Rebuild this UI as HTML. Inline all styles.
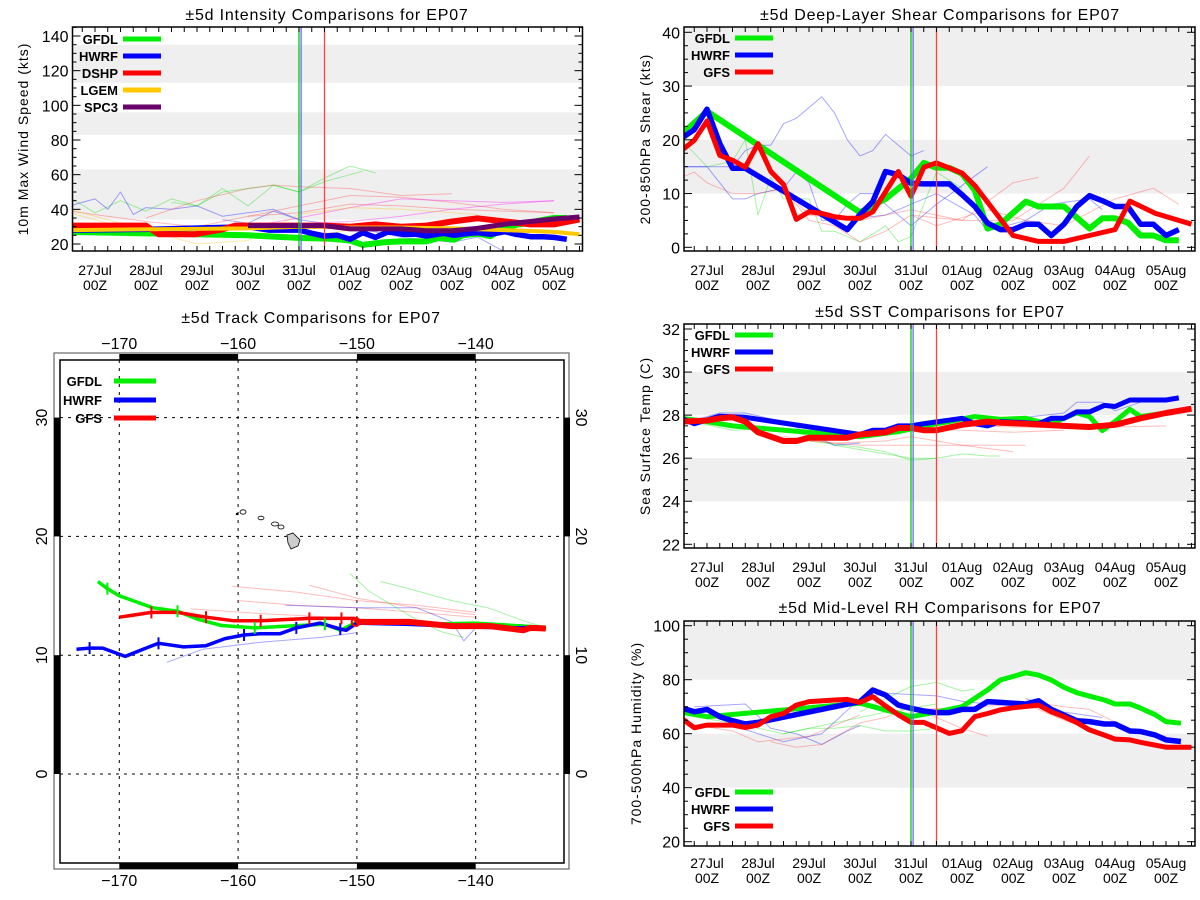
<!DOCTYPE html>
<html><head><meta charset="utf-8"><style>
html,body{margin:0;padding:0;background:#fff;}
svg{display:block;font-family:"Liberation Sans",sans-serif;}
</style></head><body>
<svg id="svg" width="1200" height="900" viewBox="0 0 1200 900" xmlns="http://www.w3.org/2000/svg"></svg>
<script>
// ---------- Intensity data (t = hours from 27Jul 00Z) ----------
const intGfdlT=[-12,72,96,111,120,126,136,144,156,162,169,173,180,186,191,198,216,222];
const intGfdlV=[27,25,23.5,23,22,19.5,21,21.5,21.5,23.5,22.5,25,26,24.5,28,31,35,35];
const intHwrfT=[-12,27,72,82,96,102,108,114,120,126,132,138,145,151,156,164,169,176,180,186,193,198,205,211,216,222];
const intHwrfV=[28,28.5,30,28,28,26.2,24.6,25,22.7,26.5,23.8,27.1,25.6,25.6,24.6,26.2,25,26.2,26.5,25.6,27.1,25.6,24.2,24.2,23.8,22.7];
const intDshpT=[-12,24,30,47,60,66,72,108,120,132,144,156,168,180,193,205,216,228];
const intDshpV=[30.6,30.6,25.6,25.6,28.5,30.6,30.6,30.6,30,31.3,30,30.6,33,34.8,33,31.3,31.3,34.2];
const intLgemT=[-12,72,96,108,120,144,168,192,216,228];
const intLgemV=[28,29,30,30,29.5,29.5,29,28,27,25.6];
const intSpc3T=[72,108,120,144,156,168,180,193,205,216,228];
const intSpc3V=[30.6,30.6,28.7,28.7,27.7,27.7,29,31.5,33,34.4,35.6];
const intFaint=[
 {c:'#00e000',t:[-12,0,12,24,36,48,60,72,84,96,108,120,126],v:[47,38,45,39,46,42,52,42,54,50,56,60,62]},
 {c:'#00e000',t:[36,48,60,72,84,96,108,120,132],v:[44,42,50,52,54,50,58,65,61]},
 {c:'#0000ff',t:[-12,0,6,12,18,24,36,48,60,72,84,96],v:[42,46,40,50,37,41,40,42,36,38,40,34]},
 {c:'#0000ff',t:[60,72,84,96,108,120,144,168,180,192],v:[34,32,39,34,32,30,24,21,24,16]},
 {c:'#ff4040',t:[24,48,72,84,96,120,144,168],v:[35,45,52,54,53,52,48,49]},
 {c:'#ff4040',t:[-12,24,48,72,96,120,144,168,192,216],v:[39,33,30,36,42,48,47,44,40,38]},
 {c:'#ff4040',t:[72,96,120,144,168,192,216],v:[36,38,43,42,40,39,38]},
 {c:'#ff00ff',t:[72,96,120,144,168,192,216],v:[30,35,41,46,45,44,45]},
 {c:'#ff00ff',t:[84,120,144,168,192,216],v:[31,33,36,40,43,45]},
 {c:'#ffc000',t:[-12,24,48,72,96,120,144,168,180],v:[40,28,20,22,37,41,40,38,37]},
 {c:'#ffc000',t:[-12,12,36,60,84,108,132],v:[38,30,26,24,24,26,30]}
];
// ---------- Shear data ----------
const shrGfdlT=[-12,0,72,84,96,102,108,114,120,126,132,138,150,156,168,180,186,192,198,204,210,216,222];
const shrGfdlV=[21,25.3,6.5,9,12.8,15.7,14.8,14.8,13.7,10.6,3.5,4.3,8.5,7.6,7.6,3.5,5.4,5.4,4.6,2.2,2.2,1.3,1.3];
const shrHwrfT=[-12,-6,0,6,12,18,66,72,78,84,90,96,102,114,120,126,132,138,144,150,156,162,168,174,180,187,192,198,204,210,216,222];
const shrHwrfV=[20.3,21.9,25.7,19.3,14.7,14.7,3.3,6.1,8.5,14.1,13.5,11.9,11.8,11.8,9.8,7.6,4.5,3.3,3.3,4.3,4.3,2.2,4.3,7.6,9.6,8.5,7.6,7.6,4.3,4.3,2.2,3.3];
const shrGfsT=[-12,-6,0,6,12,18,24,30,36,42,48,54,60,66,72,78,84,90,96,102,108,120,126,144,156,168,180,192,199,211,228];
const shrGfsV=[18,19.9,23.5,17.1,16.2,14.9,19.3,14.1,11.7,5.2,6.6,6.3,5.7,5.4,5.4,6.6,10.3,14.1,9.5,14.9,15.7,13.8,11.5,2.2,1.1,1.1,2.2,3.3,8.6,6.3,4.3];
const shrFaint=[
 {c:'#0000ff',t:[-12,12,18,24,30,36,42,54,60,66,72,78,84,96,102],v:[15,15,18,19,19,23,24,28,25,20,17,18,21,17,18]},
 {c:'#0000ff',t:[-12,0,12,18,24,36,42,48,54,60,66,72,78,84,96,108,132],v:[15,15,9,9,10,11,14,12,5,5,8,10,10,8,4,8,15]},
 {c:'#0000ff',t:[60,84,96,108,126,132,150,162,180,186],v:[5,6,8,10,6,3,5,8,9,7]},
 {c:'#00e000',t:[-12,0,12,18,24,30,36,48,54,60,72,84,90,96,108,120],v:[20,15,16,20,6,13,9,9,3,3,1,4,1,2,14,11]},
 {c:'#ff4040',t:[-12,-6,0,12,24,36,48,60,72,84,96,120,144,156],v:[13,14,12,10,10,11,5,4,1,3,6,5,12,13]},
 {c:'#ff4040',t:[36,48,72,96,108,120,144,156,168,180],v:[11,6,5,7,6,5,5,8,11,17]},
 {c:'#ff4040',t:[96,108,132,150,168,192,210,222],v:[6,4,7,5,4,9,11,8]}
];
// ---------- SST data ----------
const sstGfdlT=[-12,0,12,72,90,102,114,126,138,150,156,162,174,180,186,192,199,204,216,222];
const sstGfdlV=[27.85,27.7,27.5,27.0,27.23,27.49,27.7,27.93,27.8,27.85,27.7,27.6,28.11,27.93,27.28,27.7,28.27,27.93,28.1,28.19];
const sstHwrfT=[-12,-6,6,18,72,78,84,90,96,102,120,126,132,138,150,156,162,168,174,180,187,192,199,216,222];
const sstHwrfV=[27.85,27.6,27.95,27.9,27.1,27.3,27.3,27.5,27.5,27.6,27.85,27.6,27.5,27.7,27.65,27.6,27.85,27.85,28.15,28.15,28.45,28.4,28.7,28.7,28.8];
const sstGfsT=[-12,0,6,12,18,24,30,36,42,48,60,66,72,84,90,96,102,108,120,132,138,150,168,180,192,204,216,228];
const sstGfsV=[27.7,27.75,27.85,27.9,27.7,27.2,27.0,26.8,26.8,26.95,26.95,26.95,27.1,27.2,27.4,27.4,27.3,27.3,27.55,27.7,27.65,27.6,27.5,27.45,27.55,27.85,28.1,28.3];
const sstFaint=[
 {c:'#00e000',t:[-12,12,36,60,72,84,96,108,120,132,138],v:[27.8,27.3,27.4,26.6,26.4,26.2,26.0,26.0,26.2,26.1,26.1]},
 {c:'#00e000',t:[48,72,84,96,108],v:[26.8,26.5,26.3,25.9,26.0]},
 {c:'#00e000',t:[84,96,108,120],v:[27.1,27.6,27.8,27.9]},
 {c:'#ff4040',t:[36,60,84,96,120,144],v:[27.0,26.7,26.8,27.0,26.6,26.3]},
 {c:'#ff4040',t:[48,72,96,120,150],v:[26.8,26.6,26.6,26.6,26.6]},
 {c:'#ff4040',t:[96,120,144,168],v:[27.4,27.3,27.2,27.3]},
 {c:'#ff4040',t:[120,168,216],v:[27.5,27.4,27.5]},
 {c:'#0000ff',t:[-12,6,18,36,60,72],v:[27.6,28.1,28.1,27.7,26.6,26.7]},
 {c:'#0000ff',t:[150,168,174,186,192,204],v:[27.9,28.1,28.6,28.6,28.2,28.6]}
];
// ---------- RH data ----------
const rhGfdlT=[-12,0,72,96,108,120,126,132,138,144,150,156,162,168,174,181,187,192,199,204,211,216,223];
const rhGfdlV=[68.1,66.3,71.3,66.3,68,70,73.1,76.2,79.9,81.2,82.6,81.7,79.9,77.2,75.2,73.7,72.5,71,71,69.5,67,64.5,63.9];
const rhHwrfT=[-12,-6,0,6,12,18,24,72,78,84,90,96,102,108,114,120,126,132,138,150,156,162,168,174,180,187,192,199,204,211,216,223];
const rhHwrfV=[69.6,68.1,69,66.3,64.8,63.6,64.2,71.9,76.2,74.3,70.6,69.4,68.4,67.8,67.8,69,69,71.9,71.6,71,72.2,69,66.9,64.8,64.5,63.6,63.6,61,60.8,59.5,57.7,57.1];
const rhGfsT=[-12,-6,0,12,18,24,30,36,42,48,60,66,72,78,84,90,96,102,108,114,120,126,132,138,144,156,162,168,174,180,187,192,199,204,216,228];
const rhGfsV=[65.7,62.2,63.2,63.2,62.3,63.2,66.3,67.5,70.6,71.9,72.5,72.7,71.6,73.7,70.3,67,64.2,64.2,62.2,60.1,61.1,66.3,67.5,68.8,69.6,70.6,68.1,66.3,64.1,61.4,59.5,58,57.7,56.8,55,55];
const rhFaint=[
 {c:'#00e000',t:[72,84,96,108,120,126],v:[68,73,77.5,79,75.8,76.5]},
 {c:'#00e000',t:[36,48,60,72,84,96,108],v:[60,62,62,63,61,61,62]},
 {c:'#00e000',t:[-12,12,36,60,84,108],v:[67,64,60,64,68,71]},
 {c:'#0000ff',t:[-6,6,18,30,42,54,66,72],v:[70,70.5,71,62,60,56,61,63]},
 {c:'#0000ff',t:[12,24,36,54,72,84,108,120,132],v:[63,60,57,60,73,75,74,72,71]},
 {c:'#0000ff',t:[150,168,186],v:[73,68,66]},
 {c:'#ff4040',t:[30,42,54,72,84,96,120,132],v:[57,55,56,64,66,70,62,59]},
 {c:'#ff4040',t:[102,126,150,168,180],v:[69,70,71,65,62]},
 {c:'#ff4040',t:[150,168,180,198,216],v:[72,70,69,62,59]},
 {c:'#ff4040',t:[-12,12,24,48,72],v:[64,61,57,59,67]}
];
// ---------- Track data (lon, lat) ----------
const trkGfdlLon=[-171.8,-171,-170,-167.2,-165.1,-163.3,-161.4,-158.6,-154.9,-152.7,-151.4,-150,-144.6,-140.1,-135.9,-134.1];
const trkGfdlLat=[16.2,15.6,15.0,14.0,13.7,13.0,12.5,12.3,12.5,12.6,12.1,12.8,12.6,12.7,12.45,12.35];
const trkHwrfLon=[-173.6,-172.5,-171.4,-169.5,-168,-166.7,-164.6,-162.7,-161.1,-159.5,-158.2,-156.5,-155.1,-153.1,-151.4,-150.9,-150,-145.9,-139.8,-137.2,-134.1];
const trkHwrfLat=[10.5,10.6,10.6,9.9,10.5,11.0,10.7,10.8,11.4,11.7,11.8,11.8,12.3,12.7,12.2,12.1,12.7,12.6,12.35,12.3,12.35];
const trkGfsLon=[-170,-167.3,-165.1,-162.7,-160.4,-158.1,-154,-151.3,-150.2,-150,-145.6,-142,-138.8,-136,-135.4,-134.1];
const trkGfsLat=[13.2,13.6,13.6,13.2,12.9,12.9,13.1,13.1,13.1,12.8,12.8,12.45,12.45,12.1,12.3,12.25];
const trkFaint=[
 {c:'#ff4040',lon:[-160.5,-155,-150,-145,-140],lat:[15.8,15.3,14.6,14.2,13.6]},
 {c:'#ff4040',lon:[-154,-150,-145,-140],lat:[15.9,14.8,14.0,13.4]},
 {c:'#ff4040',lon:[-160,-155,-150,-145,-140],lat:[14.6,14.2,14.0,13.6,13.2]},
 {c:'#ff4040',lon:[-164,-158,-152],lat:[13.9,13.5,13.2]},
 {c:'#00e000',lon:[-150.6,-149,-147,-145,-143,-141],lat:[16.9,15.4,14.2,13.0,12.0,11.5]},
 {c:'#00e000',lon:[-148,-146,-142,-139,-136,-134],lat:[16.2,15.7,14.6,14.0,12.9,12.3]},
 {c:'#0000ff',lon:[-166,-163,-158,-153,-150],lat:[9.4,10.5,11.1,11.5,11.9]},
 {c:'#0000ff',lon:[-156,-150,-145,-142,-141,-140,-136],lat:[14.2,14.0,14.0,12.8,11.2,12.3,12.6]}
];
</script>
<script>
const NS='http://www.w3.org/2000/svg';
const svg=document.getElementById('svg');
function mk(tag,attrs,parent){const e=document.createElementNS(NS,tag);for(const k in attrs)e.setAttribute(k,attrs[k]);(parent||svg).appendChild(e);return e;}
function txt(s,x,y,size,anchor,parent,extra){const e=mk('text',Object.assign({x:x,y:y,'font-size':size,'text-anchor':anchor||'middle',fill:'#000'},extra||{}),parent);e.textContent=s;return e;}
const dates=['27Jul','28Jul','29Jul','30Jul','31Jul','01Aug','02Aug','03Aug','04Aug','05Aug'];
let clipId=0;
function panel(o){
  const g=mk('g',{});
  
  
  const X=t=>o.x0+t*51/24;
  const Y=v=>o.yA+(v-o.vA)*(o.yB-o.yA)/(o.vB-o.vA);
  // bands
  o.bands.forEach(b=>{
    const r=mk('rect',{x:o.l,y:Math.max(o.t,Y(b[1])),width:o.r-o.l,height:Math.min(o.b,Y(b[0]))-Math.max(o.t,Y(b[1])),fill:'#efefef'},g);
    
    
  });
  const id='c'+(clipId++);
  const cp=mk('clipPath',{id:id},g);mk('rect',{x:o.l,y:o.t,width:o.r-o.l,height:o.b-o.t},cp);
  const sg=mk('g',{'clip-path':'url(#'+id+')'},g);
  const line=(t,v,c,w,op,name)=>{
    const p=mk('polyline',{points:t.map((tt,i)=>X(tt).toFixed(1)+','+Y(v[i]).toFixed(1)).join(' '),fill:'none',stroke:c,'stroke-width':w,'stroke-opacity':op,'stroke-linejoin':'round'},sg);
    
    
  };
  o.faint.forEach(f=>line(f.t,f.v,f.c,1,0.35,'faint-forecast-line'));
  o.series.forEach(s=>line(s.t,s.v,s.c,s.w||5.5,1,s.name));
  // vertical lines
  [[96,'#00d000'],[97,'#6a6aff'],[108,'#ff4040']].forEach(v=>{
    const l=mk('line',{x1:X(v[0]),x2:X(v[0]),y1:o.t,y2:o.b,stroke:v[1],'stroke-width':1.3},g);
    
    
  });
  // box
  mk('rect',{x:o.l,y:o.t,width:o.r-o.l,height:o.b-o.t,fill:'none',stroke:'#000','stroke-width':1.5},g);
  // x ticks every 6h
  for(let t=-12;t<=228;t+=6){const x=X(t);if(x<o.l||x>o.r)continue;
    mk('line',{x1:x,x2:x,y1:o.b,y2:o.b-5,stroke:'#000','stroke-width':1},g);
    mk('line',{x1:x,x2:x,y1:o.t,y2:o.t+5,stroke:'#000','stroke-width':1},g);}
  dates.forEach((d,i)=>{const x=X(i*24);
    const a=txt(d,x,o.b+o.lab1,14,'middle',g);
    const b=txt('00Z',x,o.b+o.lab1+15,14,'middle',g);});
  // y ticks
  for(let v=o.ymin;v<=o.ymax+1e-6;v+=o.minor){const y=Y(v);if(y<o.t-0.5||y>o.b+0.5)continue;
    const maj=Math.abs(Math.round(v/o.major)*o.major-v)<1e-6;const L=maj?8:4;
    mk('line',{x1:o.l,x2:o.l+L,y1:y,y2:y,stroke:'#000'},g);mk('line',{x1:o.r,x2:o.r-L,y1:y,y2:y,stroke:'#000'},g);
    if(maj){const e=txt(String(Math.round(v)),o.l-4,y+6,16,'end',g);}}
  const yt=txt(o.ytitle,o.ytx,(o.t+o.b)/2,14,'middle',g,{transform:'rotate(-90 '+o.ytx+' '+(o.t+o.b)/2+')','letter-spacing':'1'});
  
  const tt=txt(o.title,o.tx,o.ty,16,'middle',g,{'letter-spacing':'0.8'});
  
  // legend
  o.series.forEach((s,i)=>{if(!s.label)return;const y=o.legY+i*17;
    const lg=mk('g',{},g);
    txt(s.label,o.legX,y+5,13,'end',lg,{'font-weight':'bold'});
    mk('line',{x1:o.legX+5,x2:o.legX+43,y1:y,y2:y,stroke:s.c,'stroke-width':5},lg);});
}
const G='#00ee00',B='#0000ff',R='#ff0000';
panel({name:'intensity-panel',l:72.5,r:582.5,t:27,b:251,x0:95,yA:244,vA:20,yB:36,vB:140,ymin:15,ymax:145,minor:5,major:20,
 bands:[[34,63],[83,96],[113,135]],faint:intFaint,
 series:[{t:intGfdlT,v:intGfdlV,c:G,label:'GFDL',name:'gfdl-line',w:6},{t:intHwrfT,v:intHwrfV,c:B,label:'HWRF',name:'hwrf-line'},{t:intDshpT,v:intDshpV,c:R,label:'DSHP',name:'dshp-line',w:6},{t:intLgemT,v:intLgemV,c:'#ffc800',label:'LGEM',name:'lgem-line',w:4},{t:intSpc3T,v:intSpc3V,c:'#6a006a',label:'SPC3',name:'spc3-line',w:5}],
 title:'±5d Intensity Comparisons for EP07',tx:327,ty:20,ytitle:'10m Max Wind Speed (kts)',ytx:28,lab1:24,legX:118,legY:39});
panel({name:'shear-panel',l:684,r:1195,t:27,b:251,x0:707,yA:247.3,vA:0,yB:32.3,vB:40,ymin:0,ymax:45,minor:2.5,major:10,
 bands:[[10,20],[30,45]],faint:shrFaint,
 series:[{t:shrGfdlT,v:shrGfdlV,c:G,label:'GFDL',name:'gfdl-line',w:6},{t:shrHwrfT,v:shrHwrfV,c:B,label:'HWRF',name:'hwrf-line'},{t:shrGfsT,v:shrGfsV,c:R,label:'GFS',name:'gfs-line',w:5}],
 title:'±5d Deep-Layer Shear Comparisons for EP07',tx:940,ty:20,ytitle:'200-850hPa Shear (kts)',ytx:650,lab1:24,legX:730,legY:38});
panel({name:'sst-panel',l:684,r:1195,t:324,b:548,x0:707,yA:544.3,vA:22,yB:329,vB:32,ymin:21.5,ymax:32.5,minor:0.5,major:2,
 bands:[[24,26],[28,30]],faint:sstFaint,
 series:[{t:sstGfdlT,v:sstGfdlV,c:G,label:'GFDL',name:'gfdl-line',w:5},{t:sstHwrfT,v:sstHwrfV,c:B,label:'HWRF',name:'hwrf-line',w:5},{t:sstGfsT,v:sstGfsV,c:R,label:'GFS',name:'gfs-line',w:6}],
 title:'±5d SST Comparisons for EP07',tx:940,ty:317,ytitle:'Sea Surface Temp (C)',ytx:650,lab1:24,legX:730,legY:335});
panel({name:'rh-panel',l:684,r:1195,t:621,b:846,x0:707,yA:841.7,vA:20,yB:625.7,vB:100,ymin:20,ymax:102,minor:5,major:20,
 bands:[[40,60],[80,102]],faint:rhFaint,
 series:[{t:rhGfdlT,v:rhGfdlV,c:G,label:'GFDL',name:'gfdl-line',w:5},{t:rhHwrfT,v:rhHwrfV,c:B,label:'HWRF',name:'hwrf-line',w:5.5},{t:rhGfsT,v:rhGfsV,c:R,label:'GFS',name:'gfs-line',w:5}],
 title:'±5d Mid-Level RH Comparisons for EP07',tx:940,ty:613,ytitle:'700-500hPa Humidity (%)',ytx:641,lab1:22,legX:730,legY:792});

// ---------- Track map ----------
(function(){
  const g=mk('g',{});
  
  
  const L=60,Rr=564,T=360,Bm=863;
  const X=lon=>119.3+(lon+170)*11.88;
  const Y=lat=>774-lat*11.88;
  mk('rect',{x:54,y:353,width:515,height:516,fill:'none',stroke:'#666','stroke-width':1.2},g);
  mk('rect',{x:L,y:T,width:Rr-L,height:Bm-T,fill:'none',stroke:'#000','stroke-width':1.5},g);
  // thick bars
  [[-170,-160],[-150,-140]].forEach(a=>{mk('rect',{x:X(a[0]),y:354,width:X(a[1])-X(a[0]),height:6,fill:'#000'},g);mk('rect',{x:X(a[0]),y:863,width:X(a[1])-X(a[0]),height:6,fill:'#000'},g);});
  [[20,30],[0,10]].forEach(a=>{mk('rect',{x:54,y:Y(a[1]),width:6,height:Y(a[0])-Y(a[1]),fill:'#000'},g);mk('rect',{x:564,y:Y(a[1]),width:6,height:Y(a[0])-Y(a[1]),fill:'#000'},g);});
  [-170,-160,-150,-140].forEach(lon=>{const x=X(lon);
    mk('line',{x1:x,x2:x,y1:T,y2:Bm,stroke:'#000','stroke-dasharray':'3,5','stroke-width':1},g);
    const a=txt('\u2212'+(-lon),x,349,16,'middle',g);
    const b=txt('\u2212'+(-lon),x,886,16,'middle',g);});
  [0,10,20,30].forEach(lat=>{const y=Y(lat);
    mk('line',{x1:L,x2:Rr,y1:y,y2:y,stroke:'#000','stroke-dasharray':'3,5','stroke-width':1},g);
    const a=txt(String(lat),47,y,16,'middle',g,{transform:'rotate(-90 47 '+y+')'});
    const b=txt(String(lat),576,y,16,'middle',g,{transform:'rotate(90 576 '+y+')'});});
  // Hawaii
  const hi=mk('g',{stroke:'#000','stroke-width':0.8},g);
  
  
  mk('polygon',{points:'287,535 293,533 300,540 298,546 291,549 288,543',fill:'#ccc'},hi);
  mk('ellipse',{cx:243,cy:512,rx:3,ry:2.2,fill:'none'},hi);
  mk('ellipse',{cx:261,cy:518,rx:3,ry:1.8,fill:'none'},hi);
  mk('ellipse',{cx:275,cy:524,rx:3.5,ry:2,fill:'none'},hi);
  mk('ellipse',{cx:281,cy:527,rx:3,ry:2,fill:'none'},hi);
  mk('circle',{cx:237,cy:514,r:0.8,fill:'#000'},hi);
  const pl=(lon,lat,c,w,op,name)=>{const p=mk('polyline',{points:lon.map((l,i)=>X(l).toFixed(1)+','+Y(lat[i]).toFixed(1)).join(' '),fill:'none',stroke:c,'stroke-width':w,'stroke-opacity':op,'stroke-linejoin':'round'},g);
    
    };
  trkFaint.forEach(f=>pl(f.lon,f.lat,f.c,1,0.35,'faint-track'));
  pl(trkGfdlLon,trkGfdlLat,G,3.5,1,'gfdl-track');
  pl(trkHwrfLon,trkHwrfLat,B,3.5,1,'hwrf-track');
  pl(trkGfsLon,trkGfsLat,R,3.5,1,'gfs-track');
  pl(trkGfsLon.slice(9),trkGfsLat.slice(9),R,6,1,'gfs-track-recent');
  const cross=(lon,lat,c,idx)=>idx.forEach(i=>{const x=X(lon[i]),y=Y(lat[i]);mk('line',{x1:x,x2:x,y1:y-6,y2:y+6,stroke:c,'stroke-width':2},g);});
  cross(trkGfdlLon,trkGfdlLat,G,[1,4,7,9]);
  cross(trkHwrfLon,trkHwrfLat,B,[1,5,9,12,14]);
  cross(trkGfsLon,trkGfsLat,R,[1,3,5,6,7]);
  mk('circle',{cx:X(-150.1),cy:Y(12.8),r:4,fill:'none',stroke:R,'stroke-width':2},g);
  [['GFDL',G,381],['HWRF',B,400],['GFS',R,418]].forEach(a=>{
    const lg=mk('g',{},g);
    txt(a[0],102,a[2]+5,13,'end',lg,{'font-weight':'bold'});
    mk('line',{x1:114,x2:156,y1:a[2],y2:a[2],stroke:a[1],'stroke-width':5},lg);});
  const tt=txt('±5d Track Comparisons for EP07',311,323,16,'middle',g,{'letter-spacing':'0.8'});
  
})();
</script>
</body></html>
